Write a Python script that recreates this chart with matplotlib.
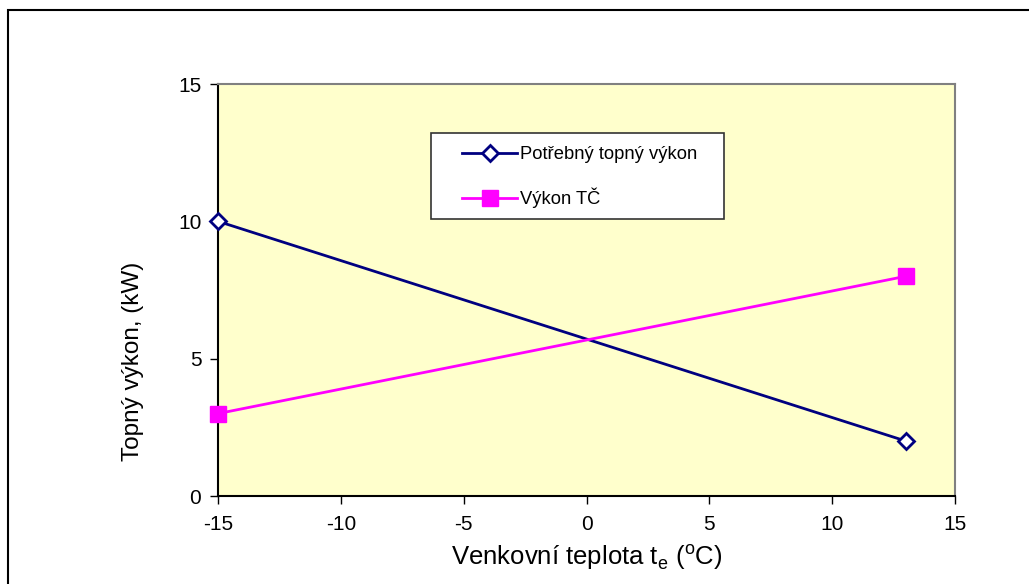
import matplotlib.pyplot as plt
from matplotlib.patches import Rectangle

# outdoor temperature (deg C)
temps = [-15, 13]
# required heating power and heat pump output (kW)
required_power = [10, 2]
heat_pump_power = [3, 8]

x_ticks = [-15, -10, -5, 0, 5, 10, 15]
y_ticks = [0, 5, 10, 15]

plt.rcParams['font.family'] = ['Liberation Sans', 'DejaVu Sans']
plt.rcParams['axes.unicode_minus'] = False

W, H = 1029, 584
fig = plt.figure(figsize=(W / 100, H / 100), dpi=100)
ax = fig.add_axes([218 / W, 1 - 496 / H, (955 - 218) / W, (496 - 84) / H])
ax.set_facecolor('#FFFFCC')

ax.plot(temps, required_power, color='#000080', lw=2, marker='D', ms=8,
        mfc='white', mec='#000080', mew=2, label='Potřebný topný výkon', clip_on=False, zorder=3)
ax.plot(temps, heat_pump_power, color='#FF00FF', lw=2, marker='s', ms=11,
        mfc='#FF00FF', mec='#FF00FF', label='Výkon TČ', clip_on=False, zorder=3)

ax.set_xlim(-15, 15)
ax.set_ylim(0, 15)
ax.set_xticks(x_ticks)
ax.set_yticks(y_ticks)
ax.tick_params(direction='out', length=6, width=1, labelsize=15, pad=8)
ax.tick_params(axis='y', pad=6)

for side in ['left', 'bottom']:
    ax.spines[side].set_color('black')
    ax.spines[side].set_linewidth(1.5)
for side in ['top', 'right']:
    ax.spines[side].set_color('#808080')
    ax.spines[side].set_linewidth(1.5)

ax.set_xlabel('Venkovní teplota t$_\\mathregular{e}$ ($^\\mathregular{o}$C)', fontsize=18.5, labelpad=6)
ax.set_ylabel('Topný výkon, (kW)', fontsize=17.5)
ax.yaxis.set_label_coords((144 - 218) / (955 - 218), (496 - 361) / (496 - 84))

# legend box drawn separately, entries placed inside it
ax.add_patch(Rectangle((431 / W, 1 - 219 / H), (724 - 431) / W, (219 - 133) / H,
                       transform=fig.transFigure, facecolor='white',
                       edgecolor='#333333', lw=1.2, zorder=4, clip_on=False))
leg = ax.legend(loc='upper left', bbox_to_anchor=(462 / W, 1 - 146 / H),
                bbox_transform=fig.transFigure, borderaxespad=0, borderpad=0,
                fontsize=13.2, frameon=False, handlelength=3.0,
                handletextpad=0.17, labelspacing=1.36)
leg.set_zorder(5)

# outer chart frame
fig.patches.append(Rectangle((8 / W, -0.1), 1.1, 1 - 10 / H + 0.1,
                             transform=fig.transFigure, fill=False,
                             edgecolor='black', lw=1.5, clip_on=False))

fig.savefig('out.png', dpi=100)
